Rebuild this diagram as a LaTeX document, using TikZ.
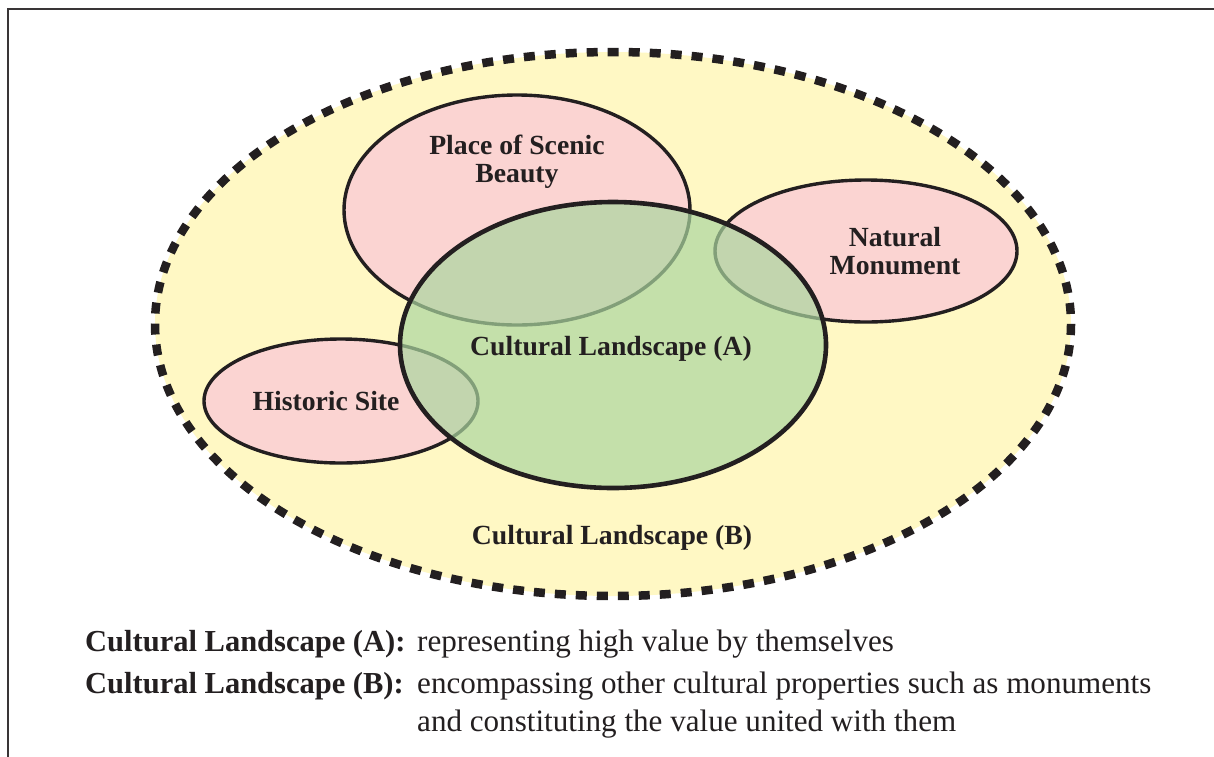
\documentclass[tikz,border=0pt]{standalone}
\usepackage{fontspec}
\setmainfont{Liberation Serif}
\definecolor{ink}{RGB}{35,31,32}
\definecolor{zoneB}{RGB}{255,248,196}
\definecolor{pinkfill}{RGB}{251,212,210}
\definecolor{zoneA}{RGB}{171,214,159}
\tikzset{
  zoneouter/.style={fill=zoneB, draw=ink, line width=8.5pt, dash pattern=on 11pt off 10pt},
  propzone/.style={fill=pinkfill, draw=ink, line width=3.4pt},
  corezone/.style={fill=zoneA, fill opacity=0.7, draw=ink, line width=4.6pt},
  lbl/.style={font=\fontsize{27.7}{28}\selectfont\bfseries, text=ink, align=center, inner sep=0pt},
  capbold/.style={font=\fontsize{30.5}{40}\selectfont\bfseries, text=ink, inner sep=0pt, anchor=base west},
  captext/.style={font=\fontsize{31.1}{40}\selectfont, text=ink, inner sep=0pt, anchor=base west},
}
\begin{document}
\begin{tikzpicture}[x=1pt, y=-1pt]
\useasboundingbox (0,0) rectangle (1214,756);
\clip (0,0) rectangle (1214,756);
% outer frame, running off the right and bottom edges
\draw[draw=ink!90, line width=2.2pt] (8,9) rectangle (1240,790);

% Cultural Landscape (B): dashed outer zone
\draw[zoneouter] (613,324) ellipse [x radius=458, y radius=272];

% designated properties
\draw[propzone] (517,210) ellipse [x radius=173, y radius=115];
\draw[propzone] (866,251) ellipse [x radius=151, y radius=71];
\draw[propzone] (341,401) ellipse [x radius=137, y radius=62];

% Cultural Landscape (A): translucent core zone
\draw[corezone] (613,345) ellipse [x radius=213, y radius=143];

% zone labels
\node[lbl, anchor=base] (scenic1) at (517,154) {Place of Scenic};
\node[lbl, anchor=base] (scenic2) at (517,182) {Beauty};
\node[lbl, anchor=base] (natural1) at (895,246) {Natural};
\node[lbl, anchor=base] (natural2) at (895,274) {Monument};
\node[lbl, anchor=base] (clA) at (611,355) {Cultural Landscape (A)};
\node[lbl, anchor=base] (historic) at (326,410) {Historic Site};
\node[lbl, anchor=base] (clB) at (612,544) {Cultural Landscape (B)};

% legend
\node[capbold] (keyA) at (85,651) {Cultural Landscape (A):};
\node[captext] (defA) at (417,651) {representing high value by themselves};
\node[capbold] (keyB) at (85,693) {Cultural Landscape (B):};
\node[captext] (defB1) at (417,693) {encompassing other cultural properties such as monuments};
\node[captext] (defB2) at (417,731) {and constituting the value united with them};
\end{tikzpicture}
\end{document}
